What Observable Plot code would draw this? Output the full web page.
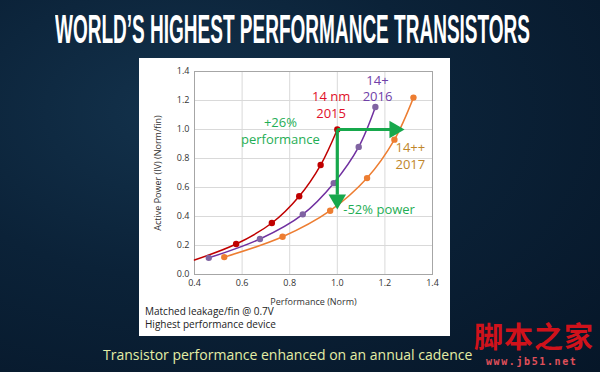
<!DOCTYPE html>
<html><head><meta charset="utf-8">
<script src="https://cdn.jsdelivr.net/npm/d3@7"></script>
<script src="https://cdn.jsdelivr.net/npm/@observablehq/plot@0.6"></script>
<style>
html,body{margin:0;padding:0;}
#stage{position:relative;width:600px;height:372px;overflow:hidden;
 background:radial-gradient(ellipse at 30% 30%, #13324c 0%, #0b2238 45%, #061628 100%);font-family:"Open Sans",sans-serif;}
#panel{position:absolute;left:139px;top:58px;width:311px;height:278px;background:#fff;}
#chart{position:absolute;left:140px;top:60px;}
.note{position:absolute;left:145px;font-size:10px;color:#222;line-height:13px;}
#caption{position:absolute;left:103px;top:345px;font-size:14px;color:#e4eea6;white-space:nowrap;}
#wm{position:absolute;left:474px;top:321px;font-family:"Noto Sans CJK SC";font-weight:700;font-size:29px;line-height:29px;color:#d0121b;letter-spacing:1px;}
#wm2{position:absolute;left:486px;top:356px;font-family:"DejaVu Sans Mono";font-weight:700;font-size:10px;line-height:12px;color:#e0505a;letter-spacing:1.6px;}
#title{position:absolute;left:55px;top:6px;font-family:"Liberation Sans",sans-serif;font-weight:700;font-size:41px;line-height:46px;color:#fff;white-space:nowrap;transform-origin:0 0;}
</style></head>
<body><div id="stage">
<div id="title">WORLD’S HIGHEST PERFORMANCE TRANSISTORS</div>
<div id="panel"></div>
<div id="chart"></div>
<div class="note" style="top:305px">Matched leakage/fin @ 0.7V<br>Highest performance device</div>
<div id="caption">Transistor performance enhanced on an annual cadence</div>
<div id="wm">脚本之家</div>
<div id="wm2">www.jb51.net</div>
</div>
<script>
// Data
const perf14 = [0.4, 0.575, 0.725, 0.84, 0.93, 1.0];
const pow14  = [0.10, 0.21, 0.355, 0.54, 0.755, 1.0];
const marker14 = [false, true, true, true, true, true];
const perf14p = [0.46, 0.675, 0.855, 0.985, 1.09, 1.16];
const pow14p  = [0.115, 0.245, 0.415, 0.63, 0.88, 1.155];
const perf14pp = [0.525, 0.77, 0.97, 1.125, 1.24, 1.32];
const pow14pp  = [0.12, 0.26, 0.44, 0.665, 0.93, 1.22];
const xTicks = [0.4, 0.6, 0.8, 1.0, 1.2, 1.4];
const yTicks = [0.0, 0.2, 0.4, 0.6, 0.8, 1.0, 1.2, 1.4];
const perfArrow = {x1: 1.0, y1: 1.0, x2: 1.257, y2: 1.0};
const powerArrow = {x1: 1.0, y1: 1.0, x2: 1.0, y2: 0.49};
const labels = [
  {x: 0.974, y: 1.167, top: "14 nm", bottom: "2015", color: "#e0102a"},
  {x: 1.169, y: 1.281, top: "14+", bottom: "2016", color: "#7040a8"},
  {x: 1.307, y: 0.816, top: "14++", bottom: "2017", color: "#c0862a"},
  {x: 0.761, y: 0.988, top: "+26%", bottom: "performance", color: "#1fae55"}
];
const powerLabel = [{x: 1.025, y: 0.448, text: "-52% power"}];

// fit the title into its width (condensed look)
const t = document.getElementById("title");
const w = t.getBoundingClientRect().width;
t.style.transform = `scaleX(${475 / w})`;

const s14 = perf14.map((x,i)=>({x, y: pow14[i], m: marker14[i]}));
const s14p = perf14p.map((x,i)=>({x, y: pow14p[i]}));
const s14pp = perf14pp.map((x,i)=>({x, y: pow14pp[i]}));
const green = "#17a84c";

const chart = Plot.plot({
  width: 305, height: 250,
  marginLeft: 54, marginRight: 13, marginTop: 11, marginBottom: 36,
  style: {fontFamily: "'Open Sans',sans-serif", fontSize: "9px", color: "#333", background: "transparent"},
  x: {domain: [0.4, 1.4], ticks: xTicks, tickFormat: d3.format(".1f"), tickSize: 0, tickPadding: 5,
      label: "Performance (Norm)", labelAnchor: "center", labelArrow: "none", labelOffset: 30},
  y: {domain: [0, 1.4], ticks: yTicks, tickFormat: d3.format(".1f"), tickSize: 0, tickPadding: 5,
      label: "Active Power (IV) (Norm/fin)", labelAnchor: "center", labelArrow: "none", labelOffset: 40},
  marks: [
    Plot.gridX(xTicks, {stroke: "#d9d9d9", strokeOpacity: 1}),
    Plot.gridY(yTicks, {stroke: "#d9d9d9", strokeOpacity: 1}),
    Plot.frame({stroke: "#a6a6a6"}),
    Plot.line(s14pp, {x: "x", y: "y", stroke: "#ed7d31", strokeWidth: 1.5, curve: "catmull-rom"}),
    Plot.line(s14p, {x: "x", y: "y", stroke: "#7030a0", strokeWidth: 1.5, curve: "catmull-rom"}),
    Plot.line(s14, {x: "x", y: "y", stroke: "#c00000", strokeWidth: 1.5, curve: "catmull-rom"}),
    Plot.dot(s14pp, {x: "x", y: "y", fill: "#ed7d31", r: 3.2}),
    Plot.dot(s14p, {x: "x", y: "y", fill: "#8064a2", r: 3.2}),
    Plot.dot(s14.filter(d=>d.m), {x: "x", y: "y", fill: "#c00000", r: 3.2}),
    Plot.link([perfArrow], {x1: "x1", y1: "y1", x2: d=>d.x2-0.03, y2: "y2", stroke: green, strokeWidth: 3.2}),
    Plot.link([powerArrow], {x1: "x1", y1: "y1", x2: "x2", y2: d=>d.y2+0.06, stroke: green, strokeWidth: 3.2}),
    Plot.dot([perfArrow], {x: "x2", y: "y2", symbol: "triangle", r: 6.5, fill: green, rotate: 90, dx: -4}),
    Plot.dot([powerArrow], {x: "x2", y: "y2", symbol: "triangle", r: 6.5, fill: green, rotate: 180, dy: -4}),
    Plot.text(labels, {x: "x", y: "y", text: "top", fill: d=>d.color, fontSize: 13, dy: -8}),
    Plot.text(labels, {x: "x", y: "y", text: "bottom", fill: d=>d.color, fontSize: 13, dy: 8.5}),
    Plot.text(powerLabel, {x: "x", y: "y", text: "text", fill: "#1fae55", fontSize: 13, textAnchor: "start"})
  ]
});
document.getElementById("chart").appendChild(chart);
</script>
</body></html>
